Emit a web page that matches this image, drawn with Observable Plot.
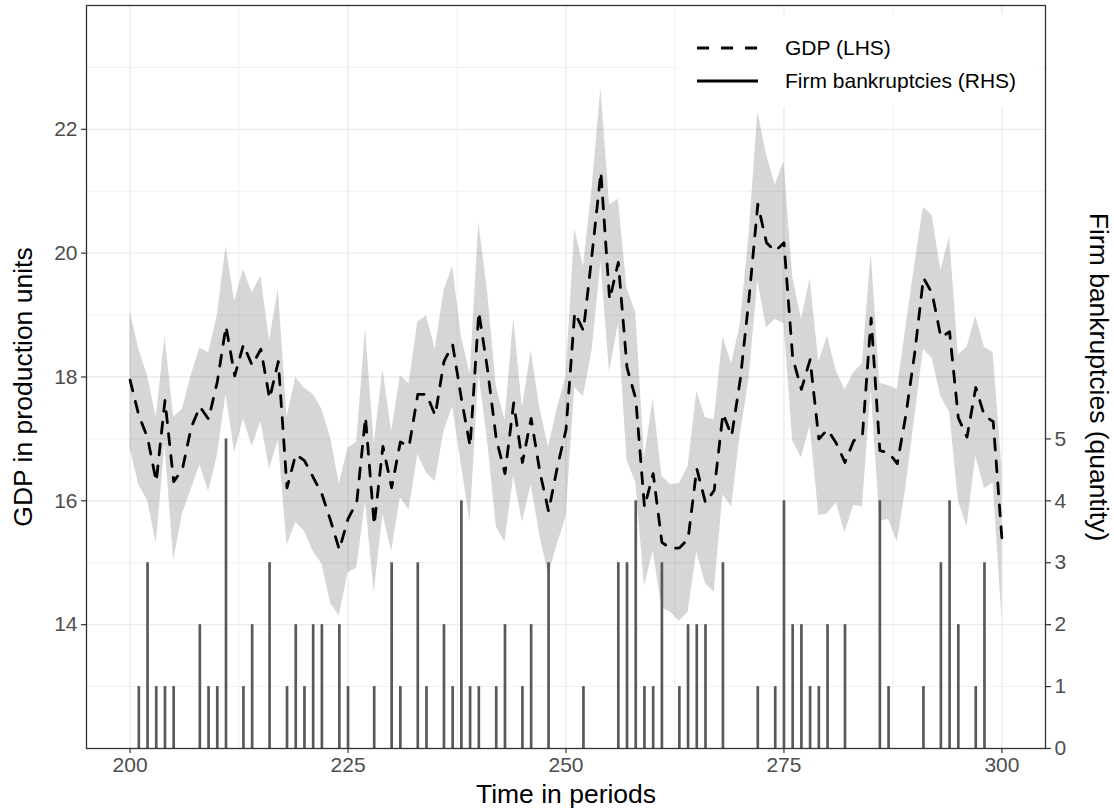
<!DOCTYPE html>
<html>
<head>
<meta charset="utf-8">
<script src="https://cdn.jsdelivr.net/npm/d3@7"></script>
<script src="https://cdn.jsdelivr.net/npm/@observablehq/plot@0.6"></script>
<style>
  body { margin: 0; background: #fff; font-family: "Liberation Sans", Arial, sans-serif; }
  #wrap { position: relative; width: 1114px; height: 812px; }
  #legend { position: absolute; left: 677px; top: 14px; width: 362px; height: 93px; background: #fff; }
  .item { position: absolute; left: 20px; height: 30px; display: flex; align-items: center; font-size: 21px; color: #000; }
  .item svg { margin-right: 27px; }
</style>
</head>
<body>
<div id="wrap">
  <div id="chart"></div>
  <div id="legend">
    <div class="item" style="top:19px"><svg width="61" height="10"><line x1="0" y1="5" x2="61" y2="5" stroke="#000" stroke-width="3" stroke-dasharray="12,12"/></svg><span>GDP (LHS)</span></div>
    <div class="item" style="top:52px"><svg width="61" height="10"><line x1="0" y1="5" x2="61" y2="5" stroke="#000" stroke-width="3"/></svg><span>Firm bankruptcies (RHS)</span></div>
  </div>
</div>
<script>
// ---- data ----
const periodStart = 200;
const gdp = [
  17.95, 17.38, 17.02, 16.31, 17.62, 16.31, 16.51, 17.18, 17.52, 17.32,
  17.92, 18.82, 18.02, 18.52, 18.19, 18.45, 17.65, 18.25, 16.21, 16.75,
  16.65, 16.38, 16.11, 15.68, 15.21, 15.71, 15.98, 17.35, 15.61, 16.88,
  16.21, 16.95, 16.88, 17.72, 17.72, 17.38, 18.25, 18.52, 17.65, 16.88,
  19.05, 18.12, 17.00, 16.44, 17.58, 16.62, 17.33, 16.47, 15.83, 16.54,
  17.15, 19.04, 18.75, 20.00, 21.31, 19.25, 19.85, 18.15, 17.65, 15.90,
  16.44, 15.33, 15.23, 15.24, 15.38, 16.52, 15.97, 16.17, 17.41, 17.05,
  17.97, 19.28, 20.79, 20.17, 20.03, 20.17, 18.31, 17.80, 18.28, 17.00,
  17.15, 16.93, 16.62, 16.97, 17.05, 18.95, 16.81, 16.78, 16.60, 17.40,
  18.39, 19.60, 19.35, 18.64, 18.73, 17.34, 17.03, 17.83, 17.37, 17.28,
  15.39
];
const gdpUpper = [
  19.06, 18.45, 18.02, 17.35, 18.66, 17.35, 17.48, 18.02, 18.47, 18.39,
  18.99, 20.11, 19.22, 19.74, 19.36, 19.63, 18.59, 19.42, 17.35, 17.99,
  17.82, 17.72, 17.48, 17.02, 16.28, 16.85, 16.95, 18.79, 16.92, 18.12,
  17.12, 18.02, 17.89, 18.89, 18.99, 18.45, 19.39, 19.79, 18.66, 18.05,
  20.49, 19.39, 17.85, 17.30, 18.96, 17.50, 18.43, 17.50, 16.86, 17.50,
  18.00, 20.39, 19.78, 21.06, 22.67, 20.78, 20.87, 19.43, 19.04, 16.69,
  17.65, 16.40, 16.26, 16.28, 16.55, 17.76, 17.34, 17.31, 18.66, 18.21,
  18.86, 20.31, 22.28, 21.59, 21.10, 21.48, 19.62, 18.93, 19.59, 18.24,
  18.66, 18.10, 17.79, 18.07, 18.22, 20.00, 17.90, 17.86, 17.80, 18.82,
  19.81, 20.74, 20.61, 19.72, 20.27, 18.36, 18.48, 18.98, 18.48, 18.39,
  16.54
];
const gdpLower = [
  16.85, 16.25, 16.01, 15.31, 16.90, 15.04, 15.78, 16.18, 16.58, 16.15,
  16.72, 17.71, 16.78, 17.32, 16.88, 17.28, 16.51, 16.98, 15.28, 15.65,
  15.51, 15.18, 14.98, 14.34, 14.14, 14.84, 14.91, 15.98, 14.51, 15.78,
  15.18, 16.05, 15.85, 16.75, 16.45, 16.31, 17.12, 17.52, 16.58, 15.65,
  18.05, 16.98, 15.58, 15.33, 16.40, 15.65, 16.26, 15.44, 14.80, 15.30,
  15.73, 17.83, 17.68, 18.43, 19.85, 18.07, 18.86, 16.65, 16.30, 14.62,
  15.19, 14.27, 14.20, 14.05, 14.20, 15.17, 14.66, 14.52, 16.10, 15.90,
  17.07, 17.97, 19.55, 18.79, 18.93, 18.86, 16.97, 16.69, 17.21, 15.76,
  15.79, 15.97, 15.48, 15.93, 15.90, 17.80, 15.67, 15.70, 15.33, 16.23,
  17.34, 18.45, 18.30, 17.68, 17.43, 16.00, 15.58, 16.72, 16.20, 16.29,
  14.09
];
const bankruptPeriods = [
  201, 202, 203, 204, 205, 208, 209, 210, 211, 213, 214, 216, 218, 219, 220,
  221, 222, 224, 225, 228, 230, 231, 233, 234, 236, 237, 238, 239, 240, 242,
  243, 245, 246, 248, 252, 256, 257, 258, 259, 260, 261, 263, 264, 265, 266,
  268, 272, 274, 275, 276, 277, 278, 279, 280, 282, 286, 287, 291, 293, 294,
  295, 297, 298
];
const bankruptCounts = [
  1, 3, 1, 1, 1, 2, 1, 1, 5, 1, 2, 3, 1, 2, 1,
  2, 2, 2, 1, 1, 3, 1, 3, 1, 2, 1, 4, 1, 1, 1,
  2, 1, 2, 3, 1, 3, 3, 4, 1, 1, 3, 1, 2, 2, 2,
  3, 1, 1, 4, 2, 2, 1, 1, 2, 2, 4, 1, 1, 3, 4,
  2, 1, 3
];
const xTicks = [200, 225, 250, 275, 300];
const xMinor = [212.5, 237.5, 262.5, 287.5];
const yTicks = [14, 16, 18, 20, 22];
const yMinor = [13, 15, 17, 19, 21, 23];
const rightTicks = [0, 1, 2, 3, 4, 5];
const secOffset = 12; // RHS = LHS - 12
const xTitle = "Time in periods";
const yTitle = "GDP in production units";
const y2Title = "Firm bankruptcies (quantity)";

// ---- tables ----
const series = gdp.map((v, i) => ({t: periodStart + i, gdp: v, lo: gdpLower[i], hi: gdpUpper[i]}));
const bars = bankruptPeriods.map((t, i) => ({t, b: bankruptCounts[i]}));

const font = "Liberation Sans, Arial, sans-serif";
const axisCommon = {fontSize: 21, tickSize: 5, tickPadding: 4, stroke: "#333333", fill: "#4d4d4d", strokeWidth: 1.2, label: null, tickFormat: d => String(d)};
const titleSize = 26.5;
const titleCommon = {fontSize: titleSize, fill: "#000", textAnchor: "middle", lineAnchor: "middle"};

const chart = Plot.plot({
  width: 1114,
  height: 812,
  marginLeft: 86,
  marginRight: 69,
  marginTop: 5,
  marginBottom: 64,
  style: {fontFamily: font, background: "white"},
  x: {domain: [195, 305]},
  y: {domain: [12, 24]},
  marks: [
    Plot.gridY(yMinor, {stroke: "#ebebeb", strokeOpacity: 1, strokeWidth: 0.7}),
    Plot.gridX(xMinor, {stroke: "#ebebeb", strokeOpacity: 1, strokeWidth: 0.7}),
    Plot.gridY(yTicks, {stroke: "#ebebeb", strokeOpacity: 1, strokeWidth: 1.4}),
    Plot.gridX(xTicks, {stroke: "#ebebeb", strokeOpacity: 1, strokeWidth: 1.4}),
    Plot.areaY(series, {x: "t", y1: "lo", y2: "hi", fill: "#000", fillOpacity: 0.16}),
    Plot.ruleX(bars, {x: "t", y1: secOffset, y2: d => d.b + secOffset, stroke: "#595959", strokeWidth: 2.7}),
    Plot.lineY(series, {x: "t", y: "gdp", stroke: "#000", strokeWidth: 2.8, strokeDasharray: "11,11"}),
    Plot.frame({stroke: "#333333", strokeWidth: 1.3}),
    Plot.axisX(xTicks, {...axisCommon, anchor: "bottom"}),
    Plot.axisY(yTicks, {...axisCommon, anchor: "left"}),
    Plot.axisY(rightTicks.map(d => d + secOffset), {...axisCommon, anchor: "right", tickFormat: d => String(d - secOffset)}),
    Plot.text([xTitle], {...titleCommon, frameAnchor: "bottom", dy: 46.5}),
    Plot.text([yTitle], {...titleCommon, frameAnchor: "left", rotate: -90, dx: -63, dy: 10}),
    Plot.text([y2Title], {...titleCommon, frameAnchor: "right", rotate: 90, dx: 53})
  ]
});
document.getElementById("chart").appendChild(chart);
</script>
</body>
</html>
